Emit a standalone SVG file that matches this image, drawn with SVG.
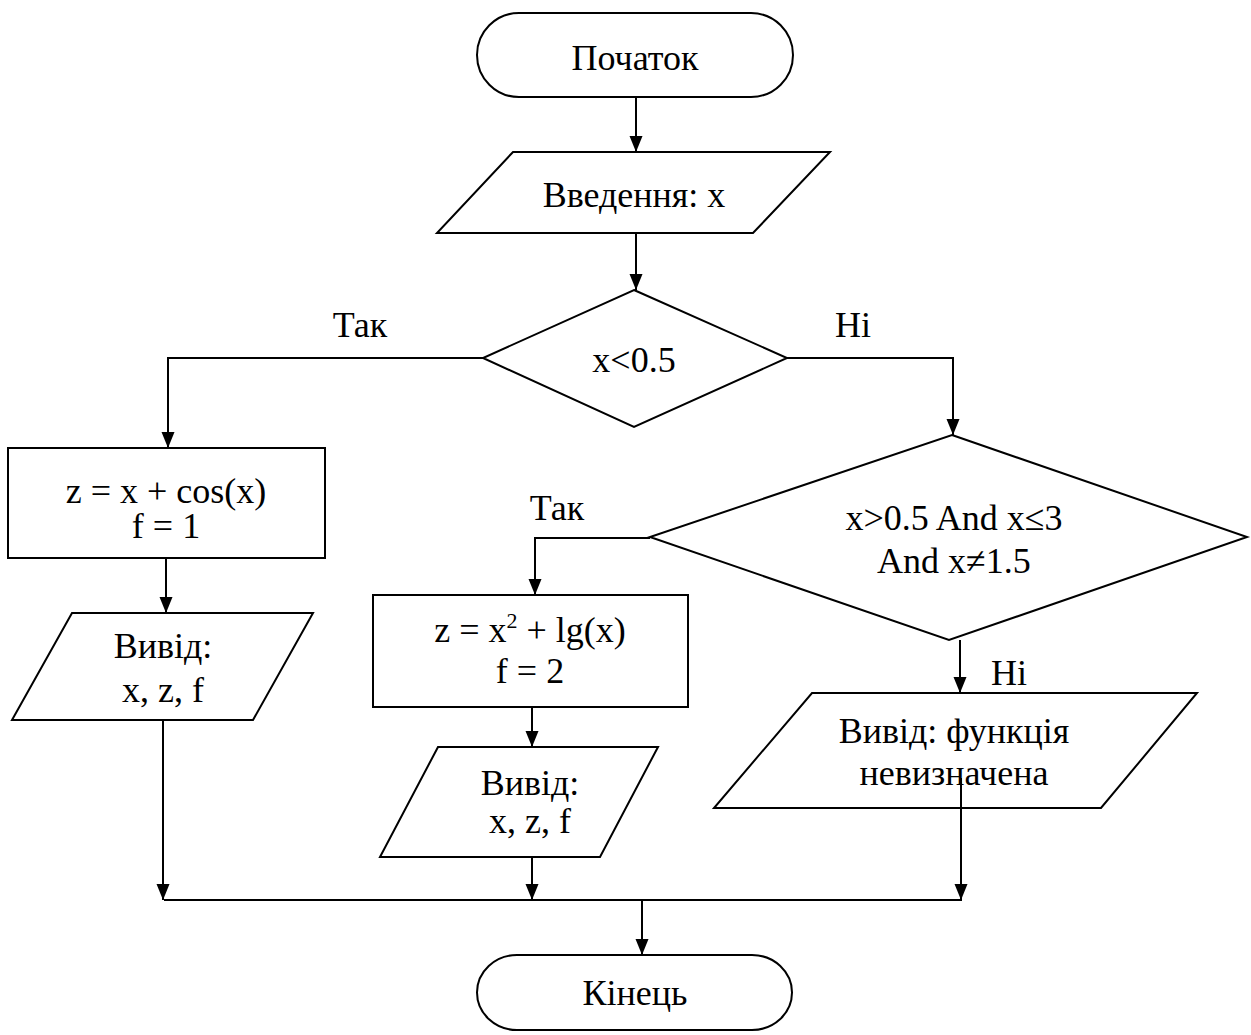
<svg xmlns="http://www.w3.org/2000/svg" width="1251" height="1035" viewBox="0 0 1251 1035">
<style>
.s{fill:#fff;stroke:#000;stroke-width:2}
.t{font-family:"Liberation Serif","Times New Roman",serif;font-size:36px;fill:#000;text-anchor:middle}
.c{fill:none;stroke:#000;stroke-width:2}
</style>
<defs>
<marker id="ah" markerUnits="userSpaceOnUse" markerWidth="17" markerHeight="14" refX="16" refY="6.5" orient="auto">
<path d="M0,0 L16,6.5 L0,13 z" fill="#000"/>
</marker>
</defs>
<rect width="1251" height="1035" fill="#fff"/>
<g id="connectors">
<path class="c" d="M636,97 V152" marker-end="url(#ah)"/>
<path class="c" d="M636,233 V290" marker-end="url(#ah)"/>
<path class="c" d="M483,358 H168 V448" marker-end="url(#ah)"/>
<path class="c" d="M787,358 H953 V435" marker-end="url(#ah)"/>
<path class="c" d="M166,558 V613" marker-end="url(#ah)"/>
<path class="c" d="M163,720 V900" marker-end="url(#ah)"/>
<path class="c" d="M650,538 H535 V595" marker-end="url(#ah)"/>
<path class="c" d="M532,707 V747" marker-end="url(#ah)"/>
<path class="c" d="M532,857 V900" marker-end="url(#ah)"/>
<path class="c" d="M960,640 V693" marker-end="url(#ah)"/>
<path class="c" d="M961,778 V900" marker-end="url(#ah)"/>
<path class="c" d="M164,900 H962"/>
<path class="c" d="M642,900 V955" marker-end="url(#ah)"/>
<text class="t" x="360" y="337">Так</text>
<text class="t" x="853" y="337">Ні</text>
<text class="t" x="557" y="520">Так</text>
<text class="t" x="1009" y="685">Ні</text>
</g>
<g id="start">
<rect class="s" x="477" y="13" width="316" height="84" rx="42" ry="42"/>
<text class="t" x="635" y="70">Початок</text>
</g>
<g id="input">
<polygon class="s" points="513,152 830,152 753,233 437,233"/>
<text class="t" x="634" y="207">Введення: x</text>
</g>
<g id="cond1">
<polygon class="s" points="634,290 787,358 634,427 483,358"/>
<text class="t" x="634" y="372">x&lt;0.5</text>
</g>
<g id="calc1">
<rect class="s" x="8" y="448" width="317" height="110"/>
<text class="t" x="166" y="503">z = x + cos(x)</text>
<text class="t" x="166" y="538">f = 1</text>
</g>
<g id="out1">
<polygon class="s" points="72,613 313,613 253,720 12,720"/>
<text class="t" x="163" y="658">Вивід:</text>
<text class="t" x="163" y="702">x, z, f</text>
</g>
<g id="cond2">
<polygon class="s" points="952,435 1247,537 949,640 650,537"/>
<text class="t" x="954" y="530">x&gt;0.5 And x≤3</text>
<text class="t" x="954" y="573">And x≠1.5</text>
</g>
<g id="calc2">
<rect class="s" x="373" y="595" width="315" height="112"/>
<text class="t" x="530" y="642">z = x<tspan font-size="22px" dy="-14">2</tspan><tspan dy="14"> + lg(x)</tspan></text>
<text class="t" x="530" y="683">f = 2</text>
</g>
<g id="out2">
<polygon class="s" points="438,747 658,747 600,857 380,857"/>
<text class="t" x="530" y="795">Вивід:</text>
<text class="t" x="530" y="833">x, z, f</text>
</g>
<g id="out3">
<polygon class="s" points="812,693 1197,693 1101,808 714,808"/>
<text class="t" x="954" y="743">Вивід: функція</text>
<text class="t" x="954" y="785">невизначена</text>
<path class="c" d="M961,778 V808"/>
</g>
<g id="end">
<rect class="s" x="477" y="955" width="315" height="75" rx="40" ry="37.5"/>
<text class="t" x="635" y="1005">Кінець</text>
</g>
</svg>
